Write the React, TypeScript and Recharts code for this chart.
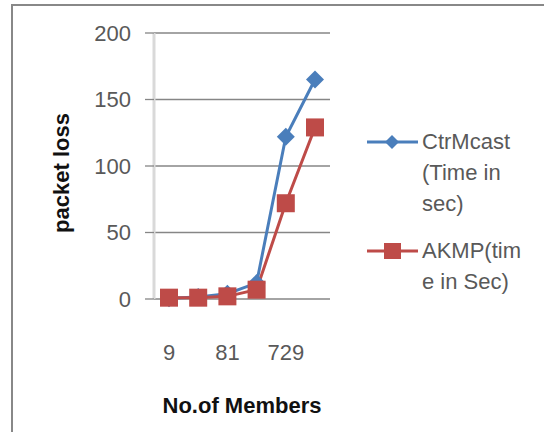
import { LineChart, Line, XAxis, YAxis, CartesianGrid, Label } from "recharts";

const members = ["9", "27", "81", "243", "729", "2187"];
const ctrMcast = [0.5, 1.5, 4, 12, 122, 165];
const akmp = [1, 1, 2, 7, 72, 129];
const yTicks = [0, 50, 100, 150, 200];

const BLUE = "#4A7EBB";
const RED = "#BE4B48";
const FONT = "'Liberation Sans', Arial, sans-serif";

const seriesInfo = [
  { key: "ctrMcast", color: BLUE, shape: "diamond", lines: ["CtrMcast", "(Time in", "sec)"] },
  { key: "akmp", color: RED, shape: "square", lines: ["AKMP(tim", "e in Sec)"] },
];

const data = members.map((m, i) => ({ members: m, ctrMcast: ctrMcast[i], akmp: akmp[i] }));

function Square(props: any) {
  const { cx, cy } = props;
  if (cx == null || cy == null) return null;
  return <rect x={cx - 9} y={cy - 9} width={18} height={18} fill={RED} />;
}

function Diamond(props: any) {
  const { cx, cy } = props;
  if (cx == null || cy == null) return null;
  return (
    <polygon
      points={`${cx},${cy - 9} ${cx + 9},${cy} ${cx},${cy + 9} ${cx - 9},${cy}`}
      fill={BLUE}
    />
  );
}

function LegendBox() {
  return (
    <div style={{ position: "absolute", left: 366, top: 126, fontFamily: FONT, fontSize: 22, color: "#595959" }}>
      {seriesInfo.map((s, i) => (
        <div key={s.key} style={{ display: "flex", marginBottom: i === 0 ? 16 : 0 }}>
          <svg width={56} height={31} style={{ flex: "none" }}>
            <line x1={1} y1={16} x2={52} y2={16} stroke={s.color} strokeWidth={3} />
            {s.shape === "square" ? (
              <rect x={18} y={8} width={17} height={16} fill={s.color} />
            ) : (
              <polygon points="26,9 33,16 26,23 19,16" fill={s.color} />
            )}
          </svg>
          <div style={{ lineHeight: "31px" }}>
            {s.lines.map((t) => (
              <div key={t}>{t}</div>
            ))}
          </div>
        </div>
      ))}
    </div>
  );
}

export default function App() {
  return (
    <div style={{ position: "absolute", left: 0, top: 0, width: 544, height: 432, background: "#fff", overflow: "hidden" }}>
      <div
        style={{
          position: "absolute",
          left: 11,
          top: 4,
          width: 560,
          height: 460,
          borderLeft: "2px solid #888",
          borderTop: "2px solid #888",
        }}
      />
      <LineChart
        width={544}
        height={432}
        data={data}
        margin={{ top: 33, right: 214, bottom: 18, left: 0 }}
        style={{ fontFamily: FONT }}
      >
        <CartesianGrid vertical={false} stroke="#868686" strokeWidth={1.3} />
        <XAxis
          dataKey="members"
          interval={1}
          padding={{ left: 15, right: 15 }}
          axisLine={false}
          tickLine={false}
          tickSize={0}
          tickMargin={45}
          height={115}
          tick={{ fontSize: 22, fill: "#595959" }}
        >
          <Label
            value="No.of Members"
            position="insideBottom"
            offset={1}
            style={{ fontSize: 22, fontWeight: "bold", fill: "#111" }}
          />
        </XAxis>
        <YAxis
          width={154}
          domain={[0, 200]}
          ticks={yTicks}
          axisLine={{ stroke: "#d9d9d9", strokeWidth: 3 }}
          tickLine={{ stroke: "#868686", strokeWidth: 1.3 }}
          tickSize={9}
          tickMargin={14}
          tick={{ fontSize: 22, fill: "#595959" }}
        >
          <Label
            value="packet loss"
            angle={-90}
            position="center"
            dx={-16}
            dy={7}
            style={{ fontSize: 22, fontWeight: "bold", fill: "#111", textAnchor: "middle" }}
          />
        </YAxis>
        <Line
          dataKey="ctrMcast"
          stroke={BLUE}
          strokeWidth={3}
          dot={<Diamond />}
          activeDot={false}
          isAnimationActive={false}
        />
        <Line
          dataKey="akmp"
          stroke={RED}
          strokeWidth={3}
          dot={<Square />}
          activeDot={false}
          isAnimationActive={false}
        />
      </LineChart>
      <LegendBox />
    </div>
  );
}
